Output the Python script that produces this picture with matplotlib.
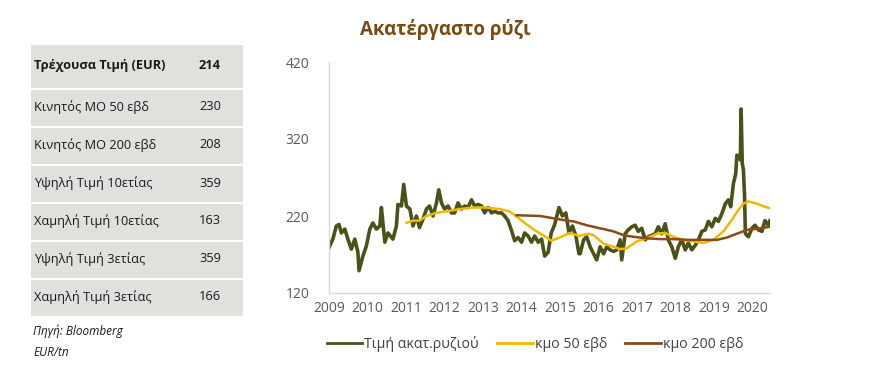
import numpy as np
import matplotlib.pyplot as plt
from matplotlib.patches import Rectangle
from matplotlib.lines import Line2D

plt.rcParams['font.family'] = ['Open Sans', 'DejaVu Sans']

# table
row_labels = ["Τρέχουσα Τιμή (EUR)", "Κινητός ΜΟ 50 εβδ", "Κινητός ΜΟ 200 εβδ",
              "Υψηλή Τιμή 10ετίας", "Χαμηλή Τιμή 10ετίας", "Υψηλή Τιμή 3ετίας",
              "Χαμηλή Τιμή 3ετίας"]
row_values = [214, 230, 208, 359, 163, 359, 166]

# weekly price (decimal years, EUR/tn)
price_t = [2009.00, 2009.10, 2009.19, 2009.26, 2009.32, 2009.41, 2009.49, 2009.58, 2009.67, 2009.75,
           2009.78, 2009.88, 2009.97, 2010.06, 2010.14, 2010.23, 2010.32, 2010.36, 2010.45, 2010.53,
           2010.66, 2010.75, 2010.79, 2010.88, 2010.94, 2011.01, 2011.10, 2011.18, 2011.27, 2011.35,
           2011.44, 2011.53, 2011.61, 2011.70, 2011.79, 2011.85, 2011.92, 2012.00, 2012.09, 2012.18,
           2012.26, 2012.35, 2012.44, 2012.52, 2012.61, 2012.70, 2012.78, 2012.87, 2012.96, 2013.04,
           2013.13, 2013.22, 2013.30, 2013.39, 2013.48, 2013.56, 2013.65, 2013.74, 2013.82, 2013.91,
           2014.00, 2014.08, 2014.17, 2014.26, 2014.34, 2014.43, 2014.52, 2014.60, 2014.69, 2014.77,
           2014.86, 2014.97, 2015.06, 2015.15, 2015.23, 2015.32, 2015.41, 2015.49, 2015.52, 2015.61,
           2015.69, 2015.78, 2015.87, 2015.95, 2016.04, 2016.13, 2016.21, 2016.30, 2016.39, 2016.47,
           2016.56, 2016.60, 2016.69, 2016.77, 2016.86, 2016.95, 2017.03, 2017.12, 2017.21, 2017.29,
           2017.38, 2017.47, 2017.55, 2017.64, 2017.73, 2017.81, 2017.90, 2017.99, 2018.07, 2018.16,
           2018.25, 2018.33, 2018.42, 2018.51, 2018.59, 2018.68, 2018.77, 2018.85, 2018.94, 2019.03,
           2019.11, 2019.20, 2019.29, 2019.37, 2019.43, 2019.50, 2019.56, 2019.59, 2019.63, 2019.68,
           2019.70, 2019.73, 2019.76, 2019.79, 2019.81, 2019.89, 2019.98, 2020.06, 2020.15, 2020.24,
           2020.32, 2020.41, 2020.45]
price_v = [179, 190, 207, 209, 198, 203, 190, 177, 190, 173,
           149, 168, 181, 203, 211, 203, 207, 231, 186, 198,
           190, 207, 235, 233, 261, 233, 229, 207, 220, 205,
           216, 229, 233, 220, 237, 254, 237, 229, 233, 224,
           224, 237, 229, 233, 231, 241, 233, 235, 233, 224,
           231, 224, 226, 224, 224, 220, 214, 201, 188, 192,
           186, 198, 194, 186, 194, 186, 190, 168, 173, 198,
           209, 231, 220, 224, 198, 207, 194, 171, 171, 189,
           193, 180, 171, 163, 180, 171, 180, 176, 174, 176,
           189, 163, 197, 202, 206, 208, 200, 204, 189, 193,
           195, 197, 206, 197, 210, 189, 180, 165, 180, 189,
           176, 185, 176, 182, 189, 200, 202, 213, 206, 217,
           213, 223, 236, 241, 232, 262, 275, 299, 297, 293,
           359, 288, 280, 245, 197, 193, 204, 208, 202, 200,
           214, 208, 214]

# 50-week moving average
ma50_t = [2011.01, 2011.18, 2011.35, 2011.53, 2011.79, 2012.05, 2012.39, 2012.74, 2013.09, 2013.43,
          2013.69, 2013.95, 2014.30, 2014.65, 2014.77, 2014.99, 2015.25, 2015.50, 2015.73, 2015.87,
          2016.13, 2016.39, 2016.56, 2016.73, 2016.99, 2017.25, 2017.51, 2017.73, 2017.94, 2018.20,
          2018.46, 2018.72, 2018.98, 2019.24, 2019.46, 2019.63, 2019.76, 2019.89, 2020.11, 2020.32,
          2020.45]
ma50_v = [211, 214, 214, 220, 224, 226, 229, 231, 231, 229,
          226, 216, 203, 192, 188, 192, 198, 194, 197, 195,
          184, 180, 177, 178, 187, 191, 197, 198, 193, 189,
          187, 185, 189, 200, 215, 228, 236, 239, 236, 232,
          230]

# 200-week moving average
ma200_t = [2013.87, 2014.48, 2014.83, 2015.18, 2015.35, 2015.69, 2016.04, 2016.39, 2016.65, 2016.90,
           2017.25, 2017.60, 2017.94, 2018.29, 2018.64, 2019.07, 2019.33, 2019.59, 2019.85, 2020.19,
           2020.45]
ma200_v = [221, 220, 217, 214, 213, 208, 204, 200, 195, 193,
           191, 190, 190, 189, 189, 189, 192, 197, 202, 204,
           206]

years = list(range(2009, 2021))

W, H = 869, 370
fig = plt.figure(figsize=(W / 100, H / 100), dpi=100)

# --- left table ---
edges = [44, 89, 127, 165, 203, 241, 279, 317]
for i in range(len(row_labels)):
    top, bot = edges[i], edges[i + 1]
    fig.patches.append(Rectangle((31 / W, 1 - (bot - 1) / H), 212 / W, (bot - top - 2) / H,
                                 transform=fig.transFigure, facecolor='#e1e0dd', edgecolor='none'))
    yc = 1 - ((top + bot - 2) / 2) / H
    bold = 'bold' if i == 0 else 'normal'
    fig.text(34 / W, yc, row_labels[i], fontsize=9.2, fontweight=bold, color='#1a1a1a', va='center', ha='left')
    fig.text(210 / W, yc, str(row_values[i]), fontsize=9.2, fontweight=bold, color='#1a1a1a', va='center', ha='center')
fig.text(33 / W, 1 - 331 / H, "Πηγή: Bloomberg", fontsize=8.5, style='italic', color='#1a1a1a', va='center')
fig.text(33 / W, 1 - 352 / H, "EUR/tn", fontsize=8.5, style='italic', color='#1a1a1a', va='center')

# --- chart ---
fig.text(445 / W, 1 - 29 / H, "Ακατέργαστο ρύζι", fontsize=13.5, fontweight='bold', color='#7a4a12',
         ha='center', va='center')

ax = fig.add_axes([329 / W, 1 - 293 / H, (770 - 329) / W, (293 - 62) / H])
green, yellow, brown = '#4b5218', '#f5b800', '#8b4a16'
ax.plot(price_t, price_v, color=green, lw=2.6, solid_joinstyle='round')
ax.plot(ma50_t, ma50_v, color=yellow, lw=1.8)
ax.plot(ma200_t, ma200_v, color=brown, lw=1.8)

ax.set_xlim(2009, 2020.45)
ax.set_ylim(120, 420)
ax.set_yticks([120, 220, 320, 420])
ax.set_xticks(years)
ax.set_xticklabels([str(y) for y in years])
ax.tick_params(axis='both', length=0, labelsize=10, colors='#595959', pad=6)
ax.tick_params(axis='y', pad=14)
for s in ['top', 'right']:
    ax.spines[s].set_visible(False)
for s in ['left', 'bottom']:
    ax.spines[s].set_color('#d9d9d9')
    ax.spines[s].set_linewidth(1)

handles = [Line2D([], [], color=green, lw=2), Line2D([], [], color=yellow, lw=2),
           Line2D([], [], color=brown, lw=2)]
fig.legend(handles, ["Τιμή ακατ.ρυζιού", "κμο 50 εβδ", "κμο 200 εβδ"], loc='center',
           bbox_to_anchor=(535 / W, 1 - 344 / H), ncol=3, frameon=False, fontsize=10.2,
           handlelength=2.5, handletextpad=0.15, columnspacing=1.3, labelcolor='#404040')

fig.savefig('out.png', dpi=100)
